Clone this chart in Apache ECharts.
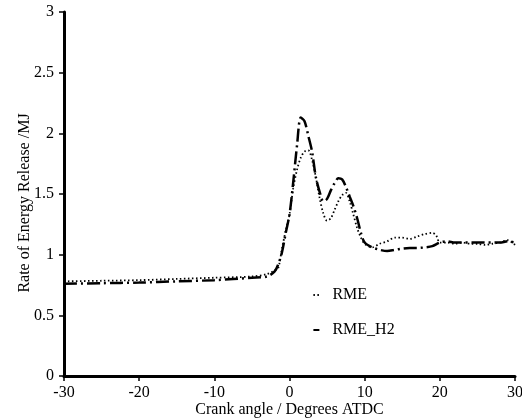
<!DOCTYPE html>
<html><head><meta charset="utf-8">
<script src="https://cdn.jsdelivr.net/npm/echarts@6/dist/echarts.min.js"></script>
<style>html,body{margin:0;padding:0;background:#fff}#c{width:522px;height:418px}</style>
</head><body><div id="c"></div>
<script>
var seriesNames = ['RME', 'RME_H2'];
var xTicks = [-30, -20, -10, 0, 10, 20, 30];
var yTicks = [0, 0.5, 1, 1.5, 2, 2.5, 3];

var rmeX = [-30,-25,-20,-15,-10,-5,-3,-2,-1.5,-1,-0.5,0,0.5,1,1.5,2,2.5,3,3.5,4,4.5,5,5.5,6,6.5,7,7.5,8,8.5,9,9.5,10,11,12,13,14,15,16,17,18,19,19.5,20,21,22,23,24,25,26,27,28,29,30];
var rmeY = [0.78,0.785,0.79,0.80,0.81,0.82,0.84,0.87,0.89,1.05,1.20,1.33,1.55,1.70,1.80,1.85,1.86,1.78,1.64,1.47,1.34,1.28,1.30,1.37,1.44,1.49,1.51,1.44,1.33,1.22,1.14,1.09,1.06,1.09,1.11,1.14,1.14,1.13,1.15,1.17,1.18,1.16,1.10,1.10,1.09,1.10,1.09,1.09,1.08,1.09,1.10,1.12,1.08];

var h2X = [-30,-25,-20,-15,-10,-5,-3,-2,-1.5,-1,-0.5,0,0.5,1,1.5,2,2.5,3,3.5,4,4.5,5,5.5,6,6.5,7,7.5,8,8.5,9,9.5,10,11,12,13,14,15,16,17,18,19,20,21,22,23,24,25,26,27,28,29,30];
var h2Y = [0.76,0.765,0.77,0.78,0.79,0.81,0.82,0.86,0.92,1.02,1.18,1.33,1.60,1.90,2.13,2.10,1.98,1.85,1.64,1.52,1.44,1.46,1.53,1.59,1.63,1.62,1.56,1.48,1.40,1.30,1.18,1.10,1.06,1.04,1.03,1.04,1.05,1.055,1.055,1.06,1.07,1.10,1.11,1.10,1.10,1.10,1.10,1.10,1.10,1.10,1.11,1.10];

function pairs(xs, ys){ return xs.map(function(x,i){ return [x, ys[i]]; }); }

var font = 'Liberation Serif';
var chart = echarts.init(document.getElementById('c'), null, {renderer:'canvas'});
chart.setOption({
  animation: false,
  backgroundColor: '#fff',
  textStyle: {fontFamily: font},
  grid: {left: 64, right: 7, top: 12, bottom: 42, containLabel: false, outerBoundsMode: 'none'},
  legend: {
    orient: 'vertical', left: 310, top: 287, padding: 0, itemGap: 19, itemWidth: 6, itemHeight: 16,
    itemStyle: {color: 'rgba(0,0,0,0)', borderWidth: 0},
    textStyle: {fontFamily: font, fontSize: 16, color: '#000', padding: [0, 0, 0, 8]},
    data: seriesNames
  },
  xAxis: {
    type: 'value', min: xTicks[0], max: xTicks[xTicks.length-1], interval: 10,
    name: 'Crank angle / Degrees ATDC', nameLocation: 'middle', nameGap: 26, nameMoveOverlap: false,
    nameTextStyle: {fontFamily: font, fontSize: 16, color: '#000'},
    axisLine: {onZero: false, lineStyle: {color: '#000', width: 3}},
    axisTick: {show: true, length: 5, lineStyle: {color: '#000', width: 1.5}},
    axisLabel: {fontFamily: font, fontSize: 16, color: '#000', margin: 9},
    splitLine: {show: false}
  },
  yAxis: {
    type: 'value', min: yTicks[0], max: yTicks[yTicks.length-1], interval: 0.5,
    name: 'Rate of Energy Release /MJ', nameLocation: 'middle', nameGap: 31, nameMoveOverlap: false,
    nameTextStyle: {fontFamily: font, fontSize: 16, color: '#000', padding: [0, 18, 0, 0]},
    axisLine: {show: true, onZero: false, lineStyle: {color: '#000', width: 3}},
    axisTick: {show: true, length: 5, lineStyle: {color: '#000', width: 1.5}},
    axisLabel: {fontFamily: font, fontSize: 16, color: '#000', margin: 10},
    splitLine: {show: false}
  },
  series: [
    {name: seriesNames[0], type: 'line', data: pairs(rmeX, rmeY), smooth: 0.3, showSymbol: false, symbol: 'none',
     lineStyle: {color: '#000', width: 1.8, type: [1.5, 2.5]}, itemStyle: {color: '#000'}},
    {name: seriesNames[1], type: 'line', data: pairs(h2X, h2Y), smooth: 0.3, showSymbol: false, symbol: 'none',
     lineStyle: {color: '#000', width: 2.5, type: [13, 4, 2, 4]}, itemStyle: {color: '#000'}}
  ]
});
</script></body></html>
